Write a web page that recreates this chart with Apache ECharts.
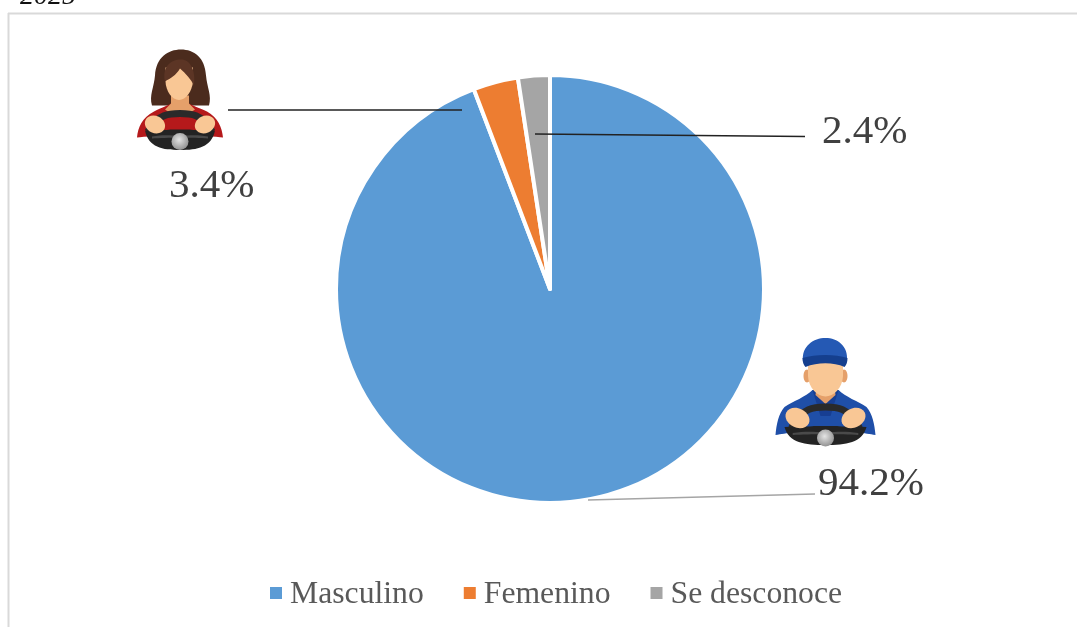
<!DOCTYPE html>
<html>
<head>
<meta charset="utf-8">
<style>html,body{margin:0;padding:0;background:#fff}#c{width:1077px;height:627px}</style>
<script src="https://cdn.jsdelivr.net/npm/echarts@6/dist/echarts.min.js"></script>
</head>
<body>
<div id="c"></div>
<script>
const categories = ['Masculino', 'Femenino', 'Se desconoce'];
const values = [94.2, 3.4, 2.4];
const colors = ['#5B9BD5', '#ED7D31', '#A5A5A5'];
const fontFamily = '"Liberation Serif", "Times New Roman", serif';
const labelSpots = [
  { x: 818, y: 484 },
  { x: 169, y: 186 },
  { x: 822, y: 132 }
];
const skin = '#F9C795', skinDark = '#E5A06A';

function seg(x1, y1, x2, y2, stroke, w) {
  return { type: 'line', shape: { x1, y1, x2, y2 }, style: { stroke, lineWidth: w }, z: 20 };
}
let shapeCount = 0;
function pathEl(d, fill, stroke, w) {
  const name = 'iconPath' + (shapeCount++);
  echarts.graphic.registerShape(name, echarts.graphic.extendPath(d, {}));
  return { type: name, style: { fill: fill, stroke: stroke || null, lineWidth: w || 0 } };
}
function ell(cx, cy, rx, ry, fill, rot) {
  return { type: 'ellipse', x: cx, y: cy, rotation: rot || 0, shape: { cx: 0, cy: 0, rx, ry }, style: { fill } };
}
function wheel(arcW, arcEnd, top, lowW, lowTop, bottom, hx, hy, hrx, hry) {
  return [
    pathEl(`M${-arcW} ${arcEnd} C${-arcW * 0.7} ${top} ${-arcW * 0.3} ${top} 0 ${top} C${arcW * 0.3} ${top} ${arcW * 0.7} ${top} ${arcW} ${arcEnd}`, 'none', '#2A2A2A', 7),
    pathEl(`M${-lowW} ${lowTop} C${-lowW * 0.6} ${lowTop - 1} ${-lowW * 0.4} ${lowTop} ${-lowW * 0.28} ${lowTop - 1} L${lowW * 0.28} ${lowTop - 1} C${lowW * 0.4} ${lowTop} ${lowW * 0.6} ${lowTop - 1} ${lowW} ${lowTop} C${lowW * 0.9} ${bottom * 0.7} ${lowW * 0.5} ${bottom} 0 ${bottom} C${-lowW * 0.5} ${bottom} ${-lowW * 0.9} ${bottom * 0.7} ${-lowW} ${lowTop} Z`, '#232323'),
    pathEl(`M${-lowW * 0.8} ${lowTop + 6} C${-lowW * 0.5} ${lowTop + 4} ${-lowW * 0.3} ${lowTop + 5} 0 ${lowTop + 5} C${lowW * 0.3} ${lowTop + 5} ${lowW * 0.5} ${lowTop + 4} ${lowW * 0.8} ${lowTop + 6} L${lowW * 0.8} ${lowTop + 8} C${lowW * 0.4} ${lowTop + 7} ${-lowW * 0.4} ${lowTop + 7} ${-lowW * 0.8} ${lowTop + 8} Z`, '#4A4A4A'),
    ell(-hx, hy, hrx, hry, skin, -0.45),
    ell(hx, hy, hrx, hry, skin, 0.45),
    { type: 'circle', shape: { cx: 0, cy: 0, r: 8.5 }, style: { fill: { type: 'radial', x: 0.45, y: 0.4, r: 0.65, colorStops: [{ offset: 0, color: '#E4E4E4' }, { offset: 1, color: '#8C8C8C' }] } } }
  ];
}
function manIcon() {
  return {
    type: 'group', x: 825.5, y: 438, z: 30,
    children: [
      pathEl('M-50 -3 C-49 -14 -47 -24 -41 -31 C-32 -37 -20 -41 -13 -48 L13 -48 C20 -41 32 -37 41 -31 C47 -24 49 -14 50 -3 C44 -4 40 -5 30 -5 L-30 -5 C-40 -5 -44 -4 -50 -3 Z', '#1F4FA8'),
      pathEl('M-13 -48 L13 -48 L5 -22 L-5 -22 Z', '#173E92'),
      ell(-18.5, -62, 3.5, 6.5, skinDark),
      ell(18.5, -62, 3.5, 6.5, skinDark),
      pathEl('M-9 -50 L9 -50 L10 -43 L0 -34 L-10 -43 Z', skinDark),
      pathEl('M-17.5 -80 L17.5 -80 L17.5 -62 C17 -50 8 -41.5 0 -41.5 C-8 -41.5 -17 -50 -17.5 -62 Z', skin),
      pathEl('M-22.5 -77 C-24 -92 -12 -100 0 -100 C12 -100 23 -92 21.5 -77 C10 -81 -10 -81 -22.5 -77 Z', '#2559B4'),
      pathEl('M-23 -80 C-10 -84 10 -84 22 -80 C22 -76 21 -73 19 -71 C8 -76 -8 -76 -20 -71 C-22 -73 -23 -76 -23 -80 Z', '#153F8E')
    ].concat(wheel(34, -10, -31, 41, -11, 7, 28, -20, 12.5, 9.5))
  };
}
function womanIcon() {
  return {
    type: 'group', x: 180, y: 141.5, z: 30,
    children: [
      pathEl('M-28 -36 C-31 -46 -26 -54 -25 -66 C-24 -84 -12 -92 1 -92 C14 -92 25 -84 26 -66 C27 -54 32 -46 29 -36 Z', '#4B2B1D'),
      pathEl('M-43 -4 C-42 -14 -38 -24 -26 -30 C-18 -34 -12 -36 -9 -38 L9 -38 C12 -36 18 -34 27 -30 C38 -24 42 -14 43 -4 C30 -6 -30 -6 -43 -4 Z', '#B5191B'),
      pathEl('M-9 -46 L9 -46 L9 -38 L15 -32 C8 -26 -8 -26 -15 -32 L-9 -38 Z', skinDark),
      pathEl('M-14.5 -74 L13 -74 L13 -60 C12 -50 6 -41.5 -1 -41.5 C-8 -41.5 -14 -50 -14.5 -60 Z', skin),
      pathEl('M-15 -60 C-18 -74 -10 -82 1 -82 C10 -82 16 -72 14 -56 C11 -62 6 -68 0 -73 C-4 -66 -10 -63 -15 -60 Z', '#5C3525')
    ].concat(wheel(32, -10, -28, 35, -11, 8.5, 25, -17, 10.5, 8.5))
  };
}

const chart = echarts.init(document.getElementById('c'), null, { renderer: 'canvas' });
chart.setOption({
  animation: false,
  backgroundColor: '#fff',
  color: colors,
  legend: {
    left: 263, top: 574,
    icon: 'rect', itemWidth: 14, itemHeight: 14, itemGap: 38,
    data: categories,
    formatter: n => '{t|' + n + '}',
    textStyle: {
      fontFamily, fontSize: 31.7, color: '#595959',
      rich: { t: { fontFamily, fontSize: 31.7, color: '#595959', padding: [4, 0, 0, 2] } }
    }
  },
  series: [{
    type: 'pie',
    center: [550, 289],
    radius: [0, 214],
    startAngle: 90,
    clockwise: true,
    silent: true,
    itemStyle: { borderColor: '#fff', borderWidth: 4 },
    label: {
      show: true,
      formatter: d => d.value.toFixed(1) + '%',
      fontFamily, fontSize: 41, color: '#404040'
    },
    labelLine: { show: false },
    labelLayout: params => ({
      x: labelSpots[params.dataIndex].x,
      y: labelSpots[params.dataIndex].y,
      align: 'left', verticalAlign: 'middle'
    }),
    data: categories.map((name, i) => ({ name, value: values[i] }))
  }],
  graphic: [
    seg(8.5, 13, 8.5, 627, '#D9D9D9', 2),
    seg(8, 13.5, 1077, 13.5, '#D9D9D9', 2),
    { type: 'text', x: 20, y: 11, z: 20, style: { text: '2025', fontFamily, fontStyle: 'italic', fontSize: 28, fill: '#111', verticalAlign: 'bottom' } },
    seg(228, 110, 462, 110, '#222', 1.3),
    seg(535, 134, 805, 136.5, '#222', 1.3),
    seg(588, 500, 815, 494, '#A5A5A5', 1.6),
    womanIcon(),
    manIcon()
  ]
});
</script>
</body>
</html>
